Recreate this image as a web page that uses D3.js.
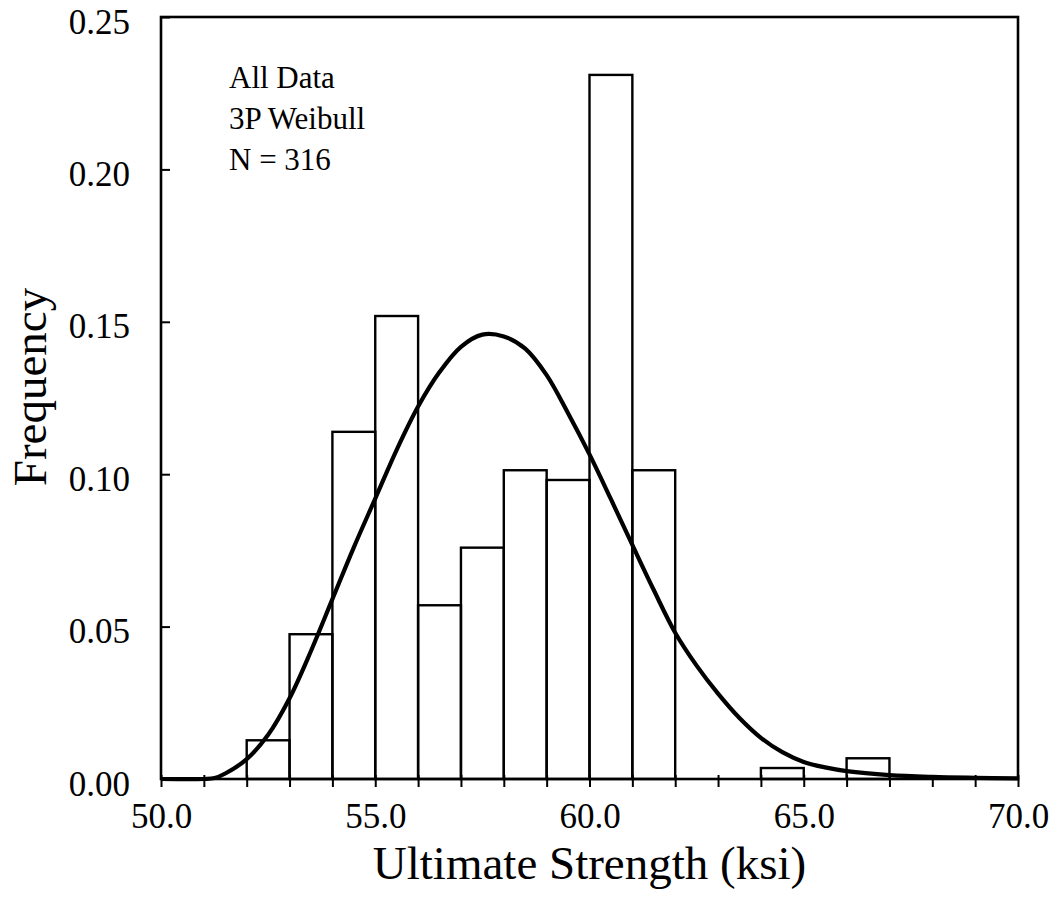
<!DOCTYPE html>
<html>
<head>
<meta charset="utf-8">
<script src="https://cdn.jsdelivr.net/npm/d3@7"></script>
<style>
  body { margin: 0; background: #fff; }
  svg text { font-family: "Liberation Serif", "Times New Roman", serif; fill: #000; }
</style>
</head>
<body>
<div class="chart"></div>
<script>
// histogram bins (lower edge, ksi) and relative frequency
const binStart = [52, 53, 54, 55, 56, 57, 58, 59, 60, 61, 62, 63, 64, 65, 66];
const freq = [0.0127, 0.0475, 0.1139, 0.1519, 0.0570, 0.0759, 0.1013, 0.0981, 0.2310, 0.1013, 0, 0, 0.0036, 0, 0.0068];

// fitted 3P Weibull curve
const curveX = [50.0, 51.0, 51.25, 51.5, 52.0, 52.5, 53.0, 53.5, 54.0, 54.5, 55.0, 55.5, 56.0, 56.5, 57.0, 57.5,
    58.0, 58.5, 59.0, 59.5, 60.0, 60.5, 61.0, 61.5, 62.0, 62.5, 63.0, 63.5, 64.0, 64.5, 65.0, 65.5, 66.0, 67.0, 68.0, 69.0, 70.0];
const curveY = [0, 0, 0.0003, 0.0018, 0.0065, 0.0145, 0.0265, 0.0420, 0.0590, 0.0760, 0.0920, 0.1080, 0.1222, 0.1335, 0.1418, 0.1458,
    0.1452, 0.1412, 0.1325, 0.1200, 0.1065, 0.0918, 0.0768, 0.0620, 0.0480, 0.0372, 0.0280, 0.0200, 0.0135, 0.0088, 0.0056, 0.0038, 0.0026, 0.0013, 0.0007, 0.0004, 0.0002];

const xTicks = d3.range(50, 71, 1);
const yTicks = [0, 0.05, 0.10, 0.15, 0.20, 0.25];
const notes = ["All Data", "3P Weibull", "N = 316"];

const width = 1058, height = 907;
const margin = {top: 17, right: 40, bottom: 128, left: 161};
const w = width - margin.left - margin.right;
const h = height - margin.top - margin.bottom;

const svg = d3.select('.chart').append('svg')
    .attr('width', width)
    .attr('height', height);
const g = svg.append('g')
    .attr('transform', 'translate(' + margin.left + ',' + margin.top + ')');

const x = d3.scaleLinear().domain([50, 70]).range([0, w]);
const y = d3.scaleLinear().domain([0, 0.25]).range([h, 0]);

// bars
g.selectAll('.bar')
    .data(binStart.map((s, i) => ({s: s, f: freq[i]})).filter(d => d.f > 0))
    .enter().append('rect')
    .attr('class', 'bar')
    .attr('x', d => x(d.s))
    .attr('width', d => x(d.s + 1) - x(d.s))
    .attr('y', d => y(d.f))
    .attr('height', d => h - y(d.f))
    .attr('fill', 'none')
    .attr('stroke', '#000')
    .attr('stroke-width', 2.4);

// fitted curve
const line = d3.line()
    .x(d => x(d[0]))
    .y(d => y(d[1]))
    .curve(d3.curveCatmullRom.alpha(0.5));
g.append('path')
    .datum(curveX.map((v, i) => [v, curveY[i]]))
    .attr('d', line)
    .attr('fill', 'none')
    .attr('stroke', '#000')
    .attr('stroke-width', 4.2);

// x axis
const xAxis = g.append('g')
    .attr('transform', 'translate(0,' + h + ')')
    .call(d3.axisBottom(x)
        .tickValues(xTicks)
        .tickSize(8)
        .tickPadding(16)
        .tickFormat(d => d % 5 === 0 ? d3.format('.1f')(d) : ''));
xAxis.select('.domain').remove();
xAxis.selectAll('.tick line').attr('y1', -4).attr('stroke-width', 2);
xAxis.selectAll('.tick text').attr('font-size', 35).attr('dy', '0.71em');

// y axis
const yAxis = g.append('g')
    .call(d3.axisLeft(y)
        .tickValues(yTicks)
        .tickSize(9)
        .tickPadding(22)
        .tickFormat(d3.format('.2f')));
yAxis.select('.domain').remove();
yAxis.selectAll('.tick line').attr('x2', 9).attr('stroke-width', 2);
yAxis.selectAll('.tick text').attr('font-size', 35).attr('dy', '0.46em');

// frame
g.append('rect')
    .attr('x', 0).attr('y', 0)
    .attr('width', w).attr('height', h)
    .attr('fill', 'none')
    .attr('stroke', '#000')
    .attr('stroke-width', 2.6);

// axis titles
svg.append('text')
    .attr('x', margin.left + w / 2)
    .attr('y', 879)
    .attr('text-anchor', 'middle')
    .attr('font-size', 47)
    .text('Ultimate Strength (ksi)');

svg.append('text')
    .attr('transform', 'translate(46,' + (margin.top + 370) + ') rotate(-90)')
    .attr('text-anchor', 'middle')
    .attr('font-size', 47)
    .text('Frequency');

// annotation
g.selectAll('.note')
    .data(notes)
    .enter().append('text')
    .attr('class', 'note')
    .attr('x', 68)
    .attr('y', (d, i) => 71 + i * 41)
    .attr('font-size', 31)
    .text(d => d);
</script>
</body>
</html>
